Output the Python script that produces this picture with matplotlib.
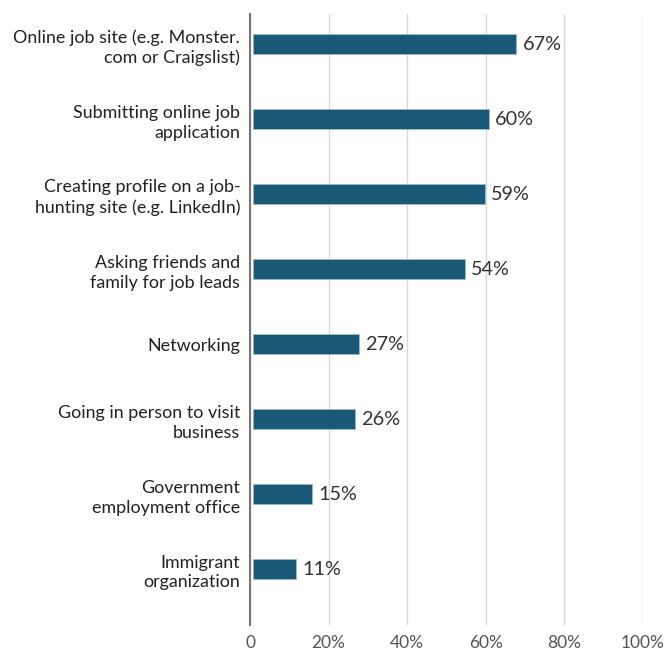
import matplotlib.pyplot as plt
from matplotlib.ticker import FuncFormatter

categories = [
    'Online job site (e.g. Monster.\ncom or Craigslist)',
    'Submitting online job\napplication',
    'Creating profile on a job-\nhunting site (e.g. LinkedIn)',
    'Asking friends and\nfamily for job leads',
    'Networking',
    'Going in person to visit\nbusiness',
    'Government\nemployment office',
    'Immigrant\norganization',
]
values = [67, 60, 59, 54, 27, 26, 15, 11]
x_ticks = [0, 20, 40, 60, 80, 100]

plt.rcParams['font.family'] = ['Lato', 'DejaVu Sans']

fig = plt.figure(figsize=(6.65, 6.5), dpi=100)
ax = fig.add_axes([0.376, 0.038, 0.591, 0.94])

y = list(range(len(categories)))
ax.barh(y, values, height=0.27, left=0.7, color='#1a5878', edgecolor='#9fb8c8', linewidth=0.6, zorder=3)

for yi, v in zip(y, values):
    ax.text(v + 2.3, yi, f'{v}%', va='center', ha='left', fontsize=14.3, color='#333333')

ax.set_yticks(y)
ax.set_yticklabels(categories, fontsize=12.9, color='#222222', linespacing=1.3)
ax.set_ylim(7.75, -0.4)
ax.set_xlim(0, 100)
ax.set_xticks(x_ticks)
ax.xaxis.set_major_formatter(FuncFormatter(lambda x, pos: '0' if x == 0 else f'{int(x)}%'))
ax.tick_params(axis='x', labelsize=12.5, colors='#555555', length=0, pad=7)
ax.tick_params(axis='y', length=0, pad=7)

ax.grid(axis='x', color='#d9d9d9', linewidth=1, zorder=0)
for s in ['top', 'right', 'bottom']:
    ax.spines[s].set_visible(False)
ax.spines['left'].set_color('#777777')
ax.spines['left'].set_linewidth(1.5)
ax.spines['left'].set_zorder(4)

fig.savefig('out.png', dpi=100)
